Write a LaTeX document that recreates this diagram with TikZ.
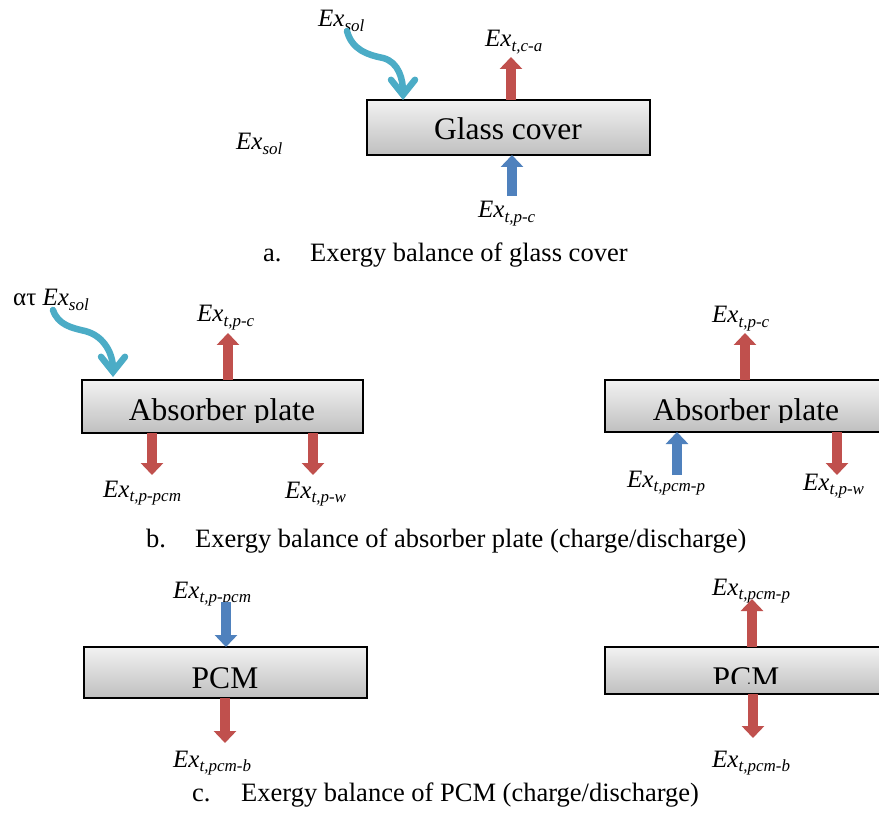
\documentclass[tikz,border=0pt]{standalone}
\usepackage{fontspec}
\setmainfont{Liberation Serif}
\usetikzlibrary{arrows.meta}
\definecolor{arrred}{HTML}{C0504D}
\definecolor{arrblue}{HTML}{4F81BD}
\definecolor{arrcyan}{HTML}{4BACC6}
\newcommand\exl[1]{\textit{Ex}{\fontsize{17}{17}\selectfont\raisebox{-4.5pt}{\textit{#1}}}}
\begin{document}
\begin{tikzpicture}[x=1pt,y=-1pt,
  box/.style={draw=black, line width=1.8pt, top color=black!5, bottom color=black!25,
    inner sep=0pt, outer sep=0pt},
  boxtext/.style={inner sep=0pt, anchor=base, font=\fontsize{31.5}{31.5}\selectfont},
  lbl/.style={inner sep=0pt, anchor=base west, font=\fontsize{25}{25}\selectfont},
  captxt/.style={inner sep=0pt, anchor=base west, font=\fontsize{26.5}{26.5}\selectfont},
  redarr/.style={draw=arrred, line width=10pt, -{Triangle[width=22pt,length=12pt]}},
  bluearr/.style={draw=arrblue, line width=10pt, -{Triangle[width=22pt,length=12pt]}},
  cyanarr/.style={draw=arrcyan, line width=6.5pt, line cap=round,
    -{Straight Barb[length=15pt,width=24pt,line cap=round]}}]
\clip (0,0) rectangle (879,813);
\fill[white] (0,0) rectangle (879,813);

% ---------- a. glass cover ----------
\node[box, minimum width=283pt, minimum height=55pt] (glass) at (508.5,127.5) {};
\node[boxtext] (tglass) at (508,140) {Glass cover};
\node[lbl] (solA) at (318,27) {\exl{sol}};
\node[lbl] (tca) at (485,47) {\exl{t,c-a}};
\node[lbl] (tpcA) at (478,218) {\exl{t,p-c}};
\node[lbl] (solS) at (236,150) {\exl{sol}};
\coordinate (solAs) at (347,31);
\coordinate (glassIn) at (403,100);
\draw[cyanarr] (solAs) .. controls (352,50) and (368,55) .. (383,58)
  .. controls (399,62) and (403,80) .. (glassIn);
\coordinate (caTip) at (511,57);
\draw[redarr] (glass.north -| caTip) -- (caTip);
\coordinate (pcTail) at (512,196);
\draw[bluearr] (pcTail) -- (pcTail |- glass.south);
\node[captxt] (capAl) at (263,262) {a.};
\node[captxt] (capA) at (310,262) {Exergy balance of glass cover};

% ---------- b. absorber plate (charge) ----------
\node[box, minimum width=281pt, minimum height=53pt] (absL) at (222.5,406.5) {};
\begin{scope}
  \clip (80,370) rectangle (370,422);
  \node[boxtext] (tabsL) at (222,420) {Absorber plate};
\end{scope}
\node[lbl] (solB) at (13,306) {ατ \textit{Ex}{\fontsize{17}{17}\selectfont\raisebox{-4.5pt}{\textit{sol}}}};
\node[lbl] (tpcB) at (197,322) {\exl{t,p-c}};
\node[lbl] (tppcmB) at (103,497) {\exl{t,p-pcm}};
\node[lbl] (tpwB) at (285,498) {\exl{t,p-w}};
\coordinate (solBs) at (53,310);
\coordinate (absLIn) at (113,377);
\draw[cyanarr] (solBs) .. controls (58,325) and (72,328) .. (85,331)
  .. controls (105,336) and (113,355) .. (absLIn);
\coordinate (pcBTip) at (228,333);
\draw[redarr] (absL.north -| pcBTip) -- (pcBTip);
\coordinate (ppcmTip) at (152,475);
\draw[redarr] (absL.south -| ppcmTip) -- (ppcmTip);
\coordinate (pwTip) at (313,475);
\draw[redarr] (absL.south -| pwTip) -- (pwTip);

% ---------- b. absorber plate (discharge) ----------
\node[box, minimum width=300pt, minimum height=52pt] (absR) at (755,406) {};
\begin{scope}
  \clip (600,370) rectangle (879,422);
  \node[boxtext] (tabsR) at (746,420) {Absorber plate};
\end{scope}
\node[lbl] (tpcR) at (712,323) {\exl{t,p-c}};
\node[lbl] (tpcmpR) at (627,487) {\exl{t,pcm-p}};
\node[lbl] (tpwR) at (803,490) {\exl{t,p-w}};
\coordinate (pcRTip) at (745,333);
\draw[redarr] (absR.north -| pcRTip) -- (pcRTip);
\coordinate (pcmpTail) at (677,475);
\draw[bluearr] (pcmpTail) -- (pcmpTail |- absR.south);
\coordinate (pwRTip) at (837,475);
\draw[redarr] (absR.south -| pwRTip) -- (pwRTip);
\node[captxt] (capBl) at (146,547) {b.};
\node[captxt] (capB) at (195,547) {Exergy balance of absorber plate (charge/discharge)};

% ---------- c. PCM (charge) ----------
\node[box, minimum width=283pt, minimum height=51pt] (pcmL) at (225.5,672.5) {};
\node[boxtext] (tpcmL) at (225,688) {PCM};
\node[lbl] (tppcmC) at (173,598) {\exl{t,p-pcm}};
\node[lbl] (tpcmbL) at (173,767) {\exl{t,pcm-b}};
\coordinate (ppcmCTail) at (226,602);
\draw[bluearr] (ppcmCTail) -- (ppcmCTail |- pcmL.north);
\coordinate (pcmbLTip) at (225,743);
\draw[redarr] (pcmL.south -| pcmbLTip) -- (pcmbLTip);

% ---------- c. PCM (discharge) ----------
\node[box, minimum width=300pt, minimum height=47pt] (pcmR) at (755,670.5) {};
\begin{scope}
  \clip (600,640) rectangle (879,683);
  \node[boxtext] (tpcmR) at (746,688) {PCM};
\end{scope}
\node[lbl] (tpcmpC) at (712,595) {\exl{t,pcm-p}};
\node[lbl] (tpcmbR) at (712,767) {\exl{t,pcm-b}};
\coordinate (pcmpCTip) at (752,599);
\draw[redarr] (pcmR.north -| pcmpCTip) -- (pcmpCTip);
\coordinate (pcmbRTip) at (753,738);
\draw[redarr] (pcmR.south -| pcmbRTip) -- (pcmbRTip);
\node[captxt] (capCl) at (192,801) {c.};
\node[captxt] (capC) at (241,801) {Exergy balance of PCM (charge/discharge)};
\end{tikzpicture}
\end{document}
